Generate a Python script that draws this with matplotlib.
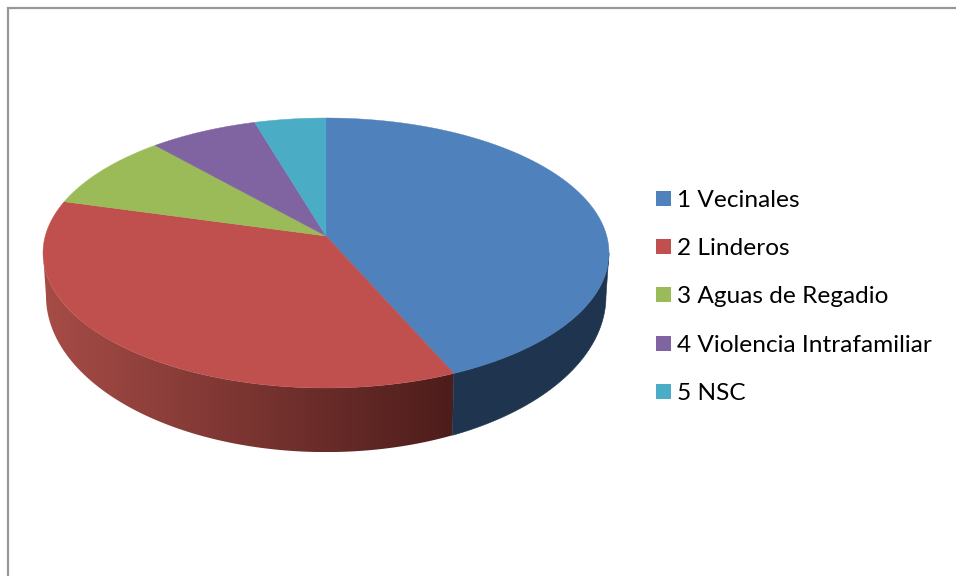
import numpy as np
import matplotlib
matplotlib.use("Agg")
import matplotlib.pyplot as plt
from matplotlib.colors import LinearSegmentedColormap
from matplotlib.patches import Polygon, Rectangle

# Data (percent)
labels = ["1 Vecinales", "2 Linderos", "3 Aguas de Regadio",
          "4 Violencia Intrafamiliar", "5 NSC"]
values = [43.4, 35.9, 9.1, 7.0, 4.6]
colors = ["#4F81BD", "#C0504D", "#9BBB59", "#8064A2", "#4BACC6"]

# pie geometry in picture pixels
CX = 326
K = 34 / 270  # perspective strength
TOP = dict(apex=236, a=118 * (1 + K), b=283 * np.sqrt(1 - K ** 2))
BOTTOM = dict(apex=276.4, a=136.4 * (1 + K), b=280 * np.sqrt(1 - K ** 2))


def project(theta, level):
    # theta in degrees, clockwise from the back of the pie
    t = np.radians(theta)
    d = 1 + K * np.cos(t)
    return CX + level["b"] * np.sin(t) / d, level["apex"] - level["a"] * np.cos(t) / d


def side_outline(th):
    xt, yt = project(th, TOP)
    xb, yb = project(th, BOTTOM)
    return np.column_stack([np.r_[xt, xb[::-1]], np.r_[yt, yb[::-1]]])


fig = plt.figure(figsize=(9.56, 5.76), dpi=100)
ax = fig.add_axes([0, 0, 1, 1])

# chart frame
ax.plot([8.5, 8.5, 956], [576, 7.5, 7.5], color="#979797", lw=1.6, solid_joinstyle="miter")

ends = np.cumsum(values) / np.sum(values) * 360
starts = np.concatenate([[0], ends[:-1]])

# visible part of the side wall
vis_start = np.degrees(np.arccos(-K))
vis_end = 360 - vis_start

# blue side: flat dark colour
pts = side_outline(np.linspace(vis_start, ends[0], 60))
ax.add_patch(Polygon(pts, closed=True, fc="#1F344F", ec="#1F344F", lw=0.4))

# red side: left to right gradient clipped to the wall
pts = side_outline(np.linspace(ends[0], vis_end, 160))
red_side = Polygon(pts, closed=True, fc="none", ec="none", transform=ax.transData)
ax.add_patch(red_side)
cmap = LinearSegmentedColormap.from_list("red_side", ["#A74C47", "#4D1D1B"])
grad = ax.imshow(np.linspace(0, 1, 256).reshape(1, -1), cmap=cmap, aspect="auto",
                 extent=[pts[:, 0].min(), pts[:, 0].max(), pts[:, 1].max(), pts[:, 1].min()])
grad.set_clip_path(red_side)

# top face
for s, e, col in zip(starts, ends, colors):
    th = np.linspace(s, e, 120)
    x, y = project(th, TOP)
    pts = np.column_stack([np.r_[CX, x], np.r_[TOP["apex"], y]])
    ax.add_patch(Polygon(pts, closed=True, fc=col, ec=col, lw=0.3))

# legend
for i, (lab, col) in enumerate(zip(labels, colors)):
    yc = 198.5 + i * 48.2
    ax.add_patch(Rectangle((656, yc - 7.5), 15, 15, fc=col, ec="none"))
    ax.text(677, yc, lab, fontsize=17.6, family=["Lato", "DejaVu Sans"], color="black",
            va="center_baseline", ha="left")

ax.set_xlim(0, 956)
ax.set_ylim(576, 0)
ax.axis("off")

fig.savefig("out.png", dpi=100)
